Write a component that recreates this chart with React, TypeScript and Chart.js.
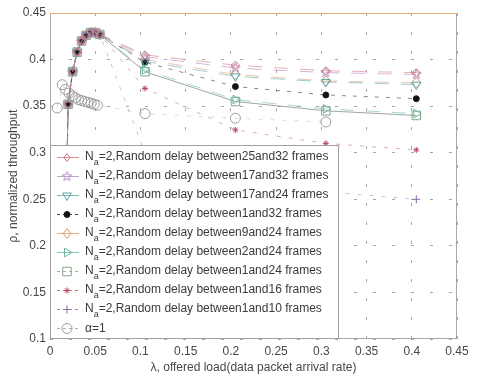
import React, { useEffect, useRef } from 'react';
import { Chart, registerables } from 'chart.js';

Chart.register(...registerables);

// Offered load (x) where the N_a = 2 curves were sampled
const lambdaRamp = [0.015, 0.02, 0.025, 0.03, 0.035, 0.04, 0.045, 0.05, 0.055];
const lambdaTail = [0.105, 0.205, 0.305, 0.405];

// Shared rising part of every N_a = 2 curve
const rhoRamp = [0.08, 0.352, 0.387, 0.408, 0.42, 0.426, 0.429, 0.429, 0.427];

// Throughput at the high-load samples, one array per delay range
const rho25to32 = [0.405, 0.394, 0.388, 0.386];
const rho17to32 = [0.403, 0.391, 0.386, 0.384];
const rho17to24 = [0.398, 0.382, 0.376, 0.373];
const rho1to32 = [0.397, 0.371, 0.362, 0.358];
const rho9to24 = [0.4, 0.384, 0.377, 0.375];
const rho2to24 = [0.389, 0.357, 0.347, 0.342];
const rho1to24 = [0.387, 0.355, 0.345, 0.34];
const rho1to16 = [0.369, 0.3245, 0.31, 0.303];
const rho1to10 = [0.3, 0.275, 0.258, 0.25];

// alpha = 1 reference curve
const lambdaAlpha = [0.008, 0.0135, 0.017, 0.021, 0.0245, 0.028, 0.0315, 0.035, 0.0385, 0.042, 0.0455, 0.049, 0.0525, 0.105, 0.205, 0.305];
const rhoAlpha = [0.348, 0.373, 0.368, 0.364, 0.361, 0.359, 0.357, 0.356, 0.355, 0.354, 0.353, 0.352, 0.351, 0.342, 0.337, 0.333];

const delayRanges = ['25and32', '17and32', '17and24', '1and32', '9and24', '2and24', '1and24', '1and16', '1and10'];
const tails = [rho25to32, rho17to32, rho17to24, rho1to32, rho9to24, rho2to24, rho1to24, rho1to16, rho1to10];

const xTicks = [0, 0.05, 0.1, 0.15, 0.2, 0.25, 0.3, 0.35, 0.4, 0.45];
const yTicks = [0.1, 0.15, 0.2, 0.25, 0.3, 0.35, 0.4, 0.45];

const xTitle = 'λ, offered load(data packet arrival rate)';
const yTitle = 'ρ, normalized throughput';

type Marker = {
  color: string;
  line: string;
  dash: number[];
  legendDash: number[];
  style: string;
  radius: number;
  fill: string;
  rotation: number;
};

// Line and marker look of each curve (same order as delayRanges, then alpha = 1)
const seriesStyles: Marker[] = [
  { color: '#d0757a', line: 'rgba(214,110,120,0.55)', dash: [14, 12], legendDash: [], style: 'rectRot', radius: 4, fill: 'rgba(0,0,0,0)', rotation: 0 },
  { color: '#b58ac2', line: 'rgba(176,120,196,0.55)', dash: [14, 12], legendDash: [], style: 'pentagram', radius: 5, fill: 'rgba(0,0,0,0)', rotation: 0 },
  { color: '#5aa8a8', line: 'rgba(80,165,170,0.55)', dash: [14, 12], legendDash: [], style: 'triangle', radius: 5, fill: 'rgba(0,0,0,0)', rotation: 180 },
  { color: '#1e1e1e', line: 'rgba(40,40,40,0.55)', dash: [4, 7], legendDash: [3, 3], style: 'circle', radius: 3, fill: '#111111', rotation: 0 },
  { color: '#d99a6a', line: 'rgba(220,150,100,0.55)', dash: [14, 12], legendDash: [], style: 'rectRot', radius: 5, fill: 'rgba(0,0,0,0)', rotation: 0 },
  { color: '#6ab8a4', line: 'rgba(100,180,160,0.55)', dash: [14, 12], legendDash: [], style: 'triangle', radius: 5, fill: 'rgba(0,0,0,0)', rotation: 90 },
  { color: '#85a884', line: 'rgba(120,140,130,0.75)', dash: [], legendDash: [3, 3], style: 'rect', radius: 6, fill: 'rgba(0,0,0,0)', rotation: 0 },
  { color: '#b8485f', line: 'rgba(190,70,95,0.45)', dash: [4, 8], legendDash: [3, 3], style: 'star', radius: 3, fill: '#c23a5a', rotation: 0 },
  { color: '#8a6aa6', line: 'rgba(140,100,170,0.4)', dash: [4, 8], legendDash: [3, 3], style: 'cross', radius: 4, fill: 'rgba(0,0,0,0)', rotation: 0 },
  { color: '#9c9c9c', line: 'rgba(150,150,150,0.35)', dash: [4, 8], legendDash: [3, 3], style: 'circle', radius: 5, fill: 'rgba(0,0,0,0)', rotation: 0 },
];

const FONT = '"Liberation Sans", Arial, Helvetica, sans-serif';
const TEXT = '#474747';

function makePentagram(color: string, r: number): HTMLCanvasElement {
  const size = Math.ceil(r * 2 + 3);
  const c = document.createElement('canvas');
  c.width = size;
  c.height = size;
  const g = c.getContext('2d')!;
  g.strokeStyle = color;
  g.lineWidth = 1;
  g.beginPath();
  for (let k = 0; k < 10; k++) {
    const ang = -Math.PI / 2 + (k * Math.PI) / 5;
    const rr = k % 2 === 0 ? r : r * 0.42;
    const px = size / 2 + rr * Math.cos(ang);
    const py = size / 2 + rr * Math.sin(ang);
    if (k === 0) g.moveTo(px, py);
    else g.lineTo(px, py);
  }
  g.closePath();
  g.stroke();
  return c;
}

function drawMarker(ctx: CanvasRenderingContext2D, m: Marker, x: number, y: number, img?: HTMLCanvasElement) {
  ctx.save();
  ctx.setLineDash([]);
  ctx.lineWidth = 1;
  ctx.strokeStyle = m.color;
  ctx.fillStyle = m.fill;
  if (m.style === 'pentagram' && img) {
    ctx.drawImage(img, x - img.width / 2, y - img.height / 2);
    ctx.restore();
    return;
  }
  ctx.translate(x, y);
  ctx.rotate((m.rotation * Math.PI) / 180);
  const r = m.radius;
  ctx.beginPath();
  switch (m.style) {
    case 'circle':
      ctx.arc(0, 0, r, 0, Math.PI * 2);
      break;
    case 'rect': {
      const s = r * Math.SQRT1_2;
      ctx.rect(-s, -s, 2 * s, 2 * s);
      break;
    }
    case 'rectRot':
      ctx.moveTo(0, -r);
      ctx.lineTo(r * 0.75, 0);
      ctx.lineTo(0, r);
      ctx.lineTo(-r * 0.75, 0);
      ctx.closePath();
      break;
    case 'triangle':
      for (let k = 0; k < 3; k++) {
        const a = -Math.PI / 2 + (k * 2 * Math.PI) / 3;
        if (k === 0) ctx.moveTo(r * Math.cos(a), r * Math.sin(a));
        else ctx.lineTo(r * Math.cos(a), r * Math.sin(a));
      }
      ctx.closePath();
      break;
    case 'cross':
      ctx.moveTo(-r, 0);
      ctx.lineTo(r, 0);
      ctx.moveTo(0, -r);
      ctx.lineTo(0, r);
      break;
    case 'star':
      for (let k = 0; k < 4; k++) {
        const a = (k * Math.PI) / 4;
        ctx.moveTo(-r * Math.cos(a), -r * Math.sin(a));
        ctx.lineTo(r * Math.cos(a), r * Math.sin(a));
      }
      break;
  }
  if (m.style !== 'cross' && m.style !== 'star') ctx.fill();
  ctx.stroke();
  ctx.restore();
}

export default function App() {
  const canvasRef = useRef<HTMLCanvasElement | null>(null);

  useEffect(() => {
    document.body.style.margin = '0';
    const canvas = canvasRef.current;
    if (!canvas) return;

    const pentagram = makePentagram(seriesStyles[1].color, seriesStyles[1].radius);

    const naData = tails.map((tail) => {
      const xs = [...lambdaRamp, ...lambdaTail];
      const ys = [...rhoRamp, ...tail];
      return xs.map((x, i) => ({ x, y: ys[i] }));
    });
    const alphaData = lambdaAlpha.map((x, i) => ({ x, y: rhoAlpha[i] }));

    const allData = [...naData, alphaData];
    const datasets = allData.map((data, i) => {
      const st = seriesStyles[i];
      return {
        label: i < delayRanges.length ? `N_a=2,Random delay between${delayRanges[i]} frames` : 'α=1',
        data,
        showLine: true,
        borderColor: st.line,
        borderWidth: 1,
        borderDash: st.dash,
        backgroundColor: st.fill,
        pointStyle: st.style === 'pentagram' ? pentagram : st.style,
        pointRadius: st.radius,
        pointRotation: st.rotation,
        pointBorderColor: st.color,
        pointBackgroundColor: st.fill,
        pointBorderWidth: 1,
        fill: false,
        tension: 0,
      };
    });

    const frame = {
      id: 'plotFrame',
      afterDatasetsDraw(chart: any) {
        const { ctx, chartArea: a } = chart;
        ctx.save();
        ctx.setLineDash([]);
        ctx.lineWidth = 1;
        ctx.strokeStyle = '#a8a8a8';
        ctx.strokeRect(Math.round(a.left) + 0.5, Math.round(a.top) + 0.5, Math.round(a.right - a.left) - 1, Math.round(a.bottom - a.top) - 1);
        ctx.strokeStyle = '#eab07a';
        ctx.beginPath();
        ctx.moveTo(a.left, Math.round(a.top) + 0.5);
        ctx.lineTo(a.right, Math.round(a.top) + 0.5);
        ctx.stroke();
        ctx.restore();
      },
    };

    const legendBox = {
      id: 'legendBox',
      afterDraw(chart: any) {
        const { ctx, chartArea: a } = chart;
        const left = Math.round(a.left);
        const top = 145;
        const right = 339;
        const bottom = Math.round(a.bottom);
        ctx.save();
        ctx.fillStyle = '#ffffff';
        ctx.fillRect(left, top, right - left, bottom - top);
        ctx.lineWidth = 1;
        ctx.strokeStyle = '#a0a0a0';
        ctx.strokeRect(left + 0.5, top + 0.5, right - left - 1, bottom - top - 1);

        seriesStyles.forEach((st, i) => {
          const y = i < delayRanges.length ? 157 + i * 19 : 328;
          ctx.save();
          ctx.strokeStyle = st.color;
          ctx.globalAlpha = 0.8;
          ctx.lineWidth = 1;
          ctx.setLineDash(st.legendDash);
          ctx.beginPath();
          ctx.moveTo(57, y + 0.5);
          ctx.lineTo(79, y + 0.5);
          ctx.stroke();
          ctx.restore();
          drawMarker(ctx, st, 67, y + 0.5, pentagram);

          ctx.fillStyle = '#3a3a3a';
          ctx.textBaseline = 'alphabetic';
          ctx.textAlign = 'left';
          let x = 85;
          if (i < delayRanges.length) {
            ctx.font = `12px ${FONT}`;
            ctx.fillText('N', x, y + 3);
            x += ctx.measureText('N').width;
            ctx.font = `9px ${FONT}`;
            ctx.fillText('a', x, y + 8);
            x += ctx.measureText('a').width;
            ctx.font = `12px ${FONT}`;
            ctx.fillText(`=2,Random delay between${delayRanges[i]} frames`, x, y + 3);
          } else {
            ctx.font = `12px ${FONT}`;
            ctx.fillText('α=1', x, y + 4);
          }
        });
        ctx.restore();
      },
    };

    const fmt = (v: any) => {
      const n = Number(v);
      return String(Number(n.toFixed(2)));
    };

    const chart = new Chart(canvas, {
      type: 'scatter',
      data: { datasets: datasets as any },
      options: {
        animation: false,
        responsive: false,
        maintainAspectRatio: false,
        layout: { padding: { top: 13, right: 20, left: 0, bottom: 0 } },
        plugins: {
          legend: { display: false },
          tooltip: { enabled: false },
        },
        scales: {
          x: {
            type: 'linear',
            min: xTicks[0],
            max: xTicks[xTicks.length - 1],
            afterBuildTicks: (scale: any) => {
              scale.ticks = xTicks.map((v) => ({ value: v }));
            },
            afterFit: (scale: any) => {
              scale.height = 36;
            },
            ticks: {
              callback: fmt,
              color: TEXT,
              font: { family: FONT, size: 12 },
              padding: 5,
              maxRotation: 0,
              autoSkip: false,
            },
            grid: {
              drawTicks: false,
              color: '#a6a6a6',
              lineWidth: 1,
            },
            border: { display: false, dash: [3, 16] },
            title: {
              display: true,
              text: xTitle,
              color: TEXT,
              font: { family: FONT, size: 12 },
              padding: { top: 0, bottom: 0 },
            },
          },
          y: {
            type: 'linear',
            min: yTicks[0],
            max: yTicks[yTicks.length - 1],
            afterBuildTicks: (scale: any) => {
              scale.ticks = yTicks.map((v) => ({ value: v }));
            },
            afterFit: (scale: any) => {
              scale.width = 50;
            },
            ticks: {
              callback: fmt,
              color: TEXT,
              font: { family: FONT, size: 12 },
              padding: 4,
              autoSkip: false,
            },
            grid: {
              drawTicks: false,
              color: '#a6a6a6',
              lineWidth: 1,
            },
            border: { display: false, dash: [3, 16] },
            title: {
              display: true,
              text: yTitle,
              color: TEXT,
              font: { family: FONT, size: 12 },
              padding: { top: 6, bottom: 0 },
            },
          },
        },
      },
      plugins: [frame, legendBox],
    });

    return () => chart.destroy();
  }, []);

  return (
    <div style={{ width: 477, height: 375, background: '#ffffff' }}>
      <canvas ref={canvasRef} width={477} height={375} />
    </div>
  );
}
